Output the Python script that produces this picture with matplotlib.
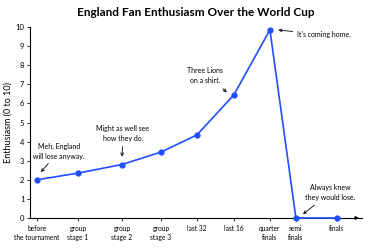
import matplotlib.pyplot as plt

# Data
stages = ["before\nthe tournament", "group\nstage 1", "group\nstage 2", "group\nstage 3",
          "last 32", "last 16", "quarter\nfinals", "semi\nfinals", "finals"]
stage_pos = [0, 1.025, 2.125, 3.1, 4.0, 4.925, 5.825, 6.475, 7.5]
enthusiasm = [2.0, 2.35, 2.8, 3.45, 4.35, 6.45, 9.85, 0.0, 0.0]

plt.rcParams['font.family'] = ['Lato', 'DejaVu Sans']

fig = plt.figure(figsize=(3.75, 2.5), dpi=100)
ax = fig.add_axes([0.08, 0.128, 0.885, 0.764])

ax.plot(stage_pos, enthusiasm, color="#1f4fff", lw=1.2, marker="o", ms=3.5, clip_on=False, zorder=3)

ax.set_xlim(-0.175, 8.125)
ax.set_ylim(0, 10)
ax.set_yticks(range(0, 11))
ax.set_xticks(stage_pos)
ax.set_xticklabels(stages, fontsize=4.8, linespacing=1.4)
ax.tick_params(axis="y", labelsize=5.5, length=2, width=0.6, pad=2)
ax.tick_params(axis="x", length=2, width=0.6, pad=3)
for s in ["top", "right"]:
    ax.spines[s].set_visible(False)
for s in ["left", "bottom"]:
    ax.spines[s].set_linewidth(0.8)

# arrow at end of x axis
ax.annotate("", xy=(1.0, 0), xycoords="axes fraction", xytext=(0.97, 0),
            arrowprops=dict(arrowstyle="-|>", color="black", lw=0.8, mutation_scale=5))

ax.set_title("England Fan Enthusiasm Over the World Cup", fontsize=8.5, fontweight="bold", pad=8)
ax.set_ylabel("Enthusiasm (0 to 10)", fontsize=6.5, labelpad=2)

arrow = dict(arrowstyle="->", color="black", lw=0.6, mutation_scale=5, shrinkA=1, shrinkB=1)
note = dict(fontsize=5, va="center", linespacing=1.5, arrowprops=arrow)
ax.annotate("Meh, England\nwill lose anyway.", xy=(0.075, 2.35), xytext=(0.55, 3.5), ha="center", **note)
ax.annotate("Might as well see\nhow they do.", xy=(2.125, 3.14), xytext=(2.15, 4.4), ha="center", **note)
ax.annotate("Three Lions\non a shirt.", xy=(4.775, 6.54), xytext=(4.2, 7.45), ha="center",
            fontsize=5, va="center", linespacing=1.5,
            arrowprops=dict(arrow, relpos=(0.85, 0.0), shrinkA=2))
ax.annotate("It's coming home.", xy=(6.0, 9.85), xytext=(6.5, 9.6), ha="left", **note)
ax.annotate("Always knew\nthey would lose.", xy=(6.625, 0.16), xytext=(7.33, 1.31), ha="center", **note)

fig.savefig("out.png", dpi=100)
